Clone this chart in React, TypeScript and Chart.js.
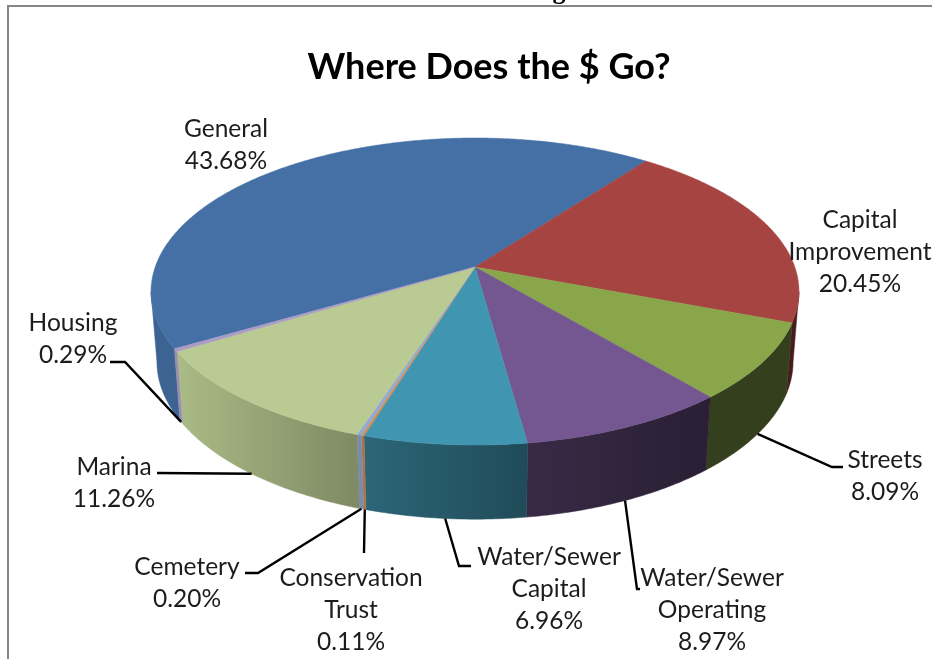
import React, { useEffect, useRef } from "react";
import { Chart, registerables } from "chart.js";

Chart.register(...registerables);

const categories = [
  "General",
  "Capital Improvement",
  "Streets",
  "Water/Sewer Operating",
  "Water/Sewer Capital",
  "Conservation Trust",
  "Cemetery",
  "Marina",
  "Housing",
];
const shares = [43.68, 20.45, 8.09, 8.97, 6.96, 0.11, 0.2, 11.26, 0.29];
const topColors = ["#4470A5", "#A64442", "#8AA64B", "#745790", "#4096B0", "#D98B4A", "#93A9D4", "#B9CB92", "#A99BC5"];
// Rim lighting at the left and right end of each slice's wall.
const wallShade: [number, number][] = [
  [0.88, 0.88], [0.42, 0.42], [0.38, 0.38], [0.48, 0.36], [0.68, 0.5],
  [0.82, 0.82], [0.82, 0.82], [0.92, 0.68], [0.9, 0.9],
];
const labelLines = [
  ["General"],
  ["Capital", "Improvement"],
  ["Streets"],
  ["Water/Sewer", "Operating"],
  ["Water/Sewer", "Capital"],
  ["Conservation", "Trust"],
  ["Cemetery"],
  ["Marina"],
  ["Housing"],
];
const labelAnchor: [number, number][] = [
  [226, 129], [860, 220], [885, 460], [712, 578], [549, 557], [351, 578], [187, 567], [114, 467], [73, 323],
];
// Bends of each leader, from the pie rim outwards; General and Capital have none.
const leaderBends: [number, number][][] = [
  [], [], [[832, 467], [843, 467]], [[637, 589], [640, 589]], [[459, 566], [471, 566]],
  [[364, 553]], [[258, 573], [245, 573]], [[157, 473]], [[125, 362], [110, 362]],
];

const W = 932;
const H = 659;
const FONT = "Lato, 'Noto Sans', sans-serif";
const LINE_H = 32;
const PERSPECTIVE = 0.1597;
const TOP_PLANE = { cx: 475, y0: 267, a: 149.6, b: 319.8 };
const BOTTOM_PLANE = { cx: 475, y0: 336.5, a: 153.5, b: 314 };
const START_ANGLE_DEG = 239.8;

type Plane = typeof TOP_PLANE;

// Projects an angle on the tilted disc (0 = back, clockwise) onto the screen.
function project(p: Plane, theta: number): [number, number] {
  const u = Math.sin(theta);
  const v = -Math.cos(theta);
  const w = 1 - PERSPECTIVE * v;
  return [p.cx + (p.b * u) / w, p.y0 + (p.a * v) / w];
}

function shade(hex: string, f: number): string {
  const n = parseInt(hex.slice(1), 16);
  const c = [(n >> 16) & 255, (n >> 8) & 255, n & 255].map((x) => Math.round(x * f));
  return `rgb(${c[0]},${c[1]},${c[2]})`;
}

const STEP = Math.PI / 360;

function arcPoints(p: Plane, s: number, e: number): [number, number][] {
  const pts: [number, number][] = [];
  const n = Math.max(1, Math.ceil((e - s) / STEP));
  for (let i = 0; i <= n; i++) pts.push(project(p, s + ((e - s) * i) / n));
  return pts;
}

const sliceAngles = (el: any): [number, number] => [el.startAngle + Math.PI / 2, el.endAngle + Math.PI / 2];

const pie3d = {
  id: "pie3d",
  beforeDatasetsDraw(chart: any) {
    const ctx: CanvasRenderingContext2D = chart.ctx;
    const arcs = chart.getDatasetMeta(0).data;
    const colors = chart.data.datasets[0].backgroundColor as string[];
    const tangent = Math.asin(PERSPECTIVE);
    const frontS = Math.PI / 2 + tangent;
    const frontE = (3 * Math.PI) / 2 - tangent;

    // Outer wall of the front half of the disc.
    arcs.forEach((el: any, i: number) => {
      const [s, e] = sliceAngles(el);
      for (let k = -1; k <= 1; k++) {
        const a = Math.max(s, frontS + 2 * Math.PI * k);
        const b = Math.min(e, frontE + 2 * Math.PI * k);
        if (b <= a) continue;
        const top = arcPoints(TOP_PLANE, a, b);
        const bottom = arcPoints(BOTTOM_PLANE, a, b).reverse();
        const xs = top.concat(bottom).map((q) => q[0]);
        const g = ctx.createLinearGradient(Math.min(...xs), 0, Math.max(...xs) + 0.01, 0);
        g.addColorStop(0, shade(colors[i], wallShade[i][0]));
        g.addColorStop(1, shade(colors[i], wallShade[i][1]));
        ctx.beginPath();
        top.concat(bottom).forEach((q, j) => (j ? ctx.lineTo(q[0], q[1]) : ctx.moveTo(q[0], q[1])));
        ctx.closePath();
        ctx.fillStyle = g;
        ctx.strokeStyle = g;
        ctx.lineWidth = 0.5;
        ctx.fill();
        ctx.stroke();
      }
    });

    // Top face of each slice.
    arcs.forEach((el: any, i: number) => {
      const [s, e] = sliceAngles(el);
      ctx.beginPath();
      ctx.moveTo(TOP_PLANE.cx, TOP_PLANE.y0);
      arcPoints(TOP_PLANE, s, e).forEach((q) => ctx.lineTo(q[0], q[1]));
      ctx.closePath();
      ctx.fillStyle = colors[i];
      ctx.strokeStyle = colors[i];
      ctx.lineWidth = 0.5;
      ctx.fill();
      ctx.stroke();
    });

    // Leaders run from the middle of a slice's lower rim to its label.
    ctx.strokeStyle = "#000";
    ctx.lineWidth = 2.4;
    ctx.lineJoin = "miter";
    arcs.forEach((el: any, i: number) => {
      if (!leaderBends[i].length) return;
      const [s, e] = sliceAngles(el);
      const [x, y] = project(BOTTOM_PLANE, (s + e) / 2);
      ctx.beginPath();
      ctx.moveTo(x, y);
      leaderBends[i].forEach((q) => ctx.lineTo(q[0], q[1]));
      ctx.stroke();
    });

    // Category and percentage labels.
    ctx.font = `24.5px ${FONT}`;
    ctx.fillStyle = "#1c1c1c";
    ctx.textAlign = "center";
    ctx.textBaseline = "middle";
    categories.forEach((_, i) => {
      const lines = [...labelLines[i], `${shares[i].toFixed(2)}%`];
      lines.forEach((t, j) => ctx.fillText(t, labelAnchor[i][0], labelAnchor[i][1] + j * LINE_H));
    });

    // Descender of the heading above the frame.
    ctx.font = "bold 26px 'Liberation Serif', serif";
    ctx.fillStyle = "#000";
    ctx.textBaseline = "alphabetic";
    ctx.fillText("g", 559, -1);

    return false;
  },
};

export default function App() {
  const ref = useRef<HTMLCanvasElement>(null);
  useEffect(() => {
    document.body.style.margin = "0";
    const chart = new Chart(ref.current!, {
      type: "pie",
      data: {
        labels: categories,
        datasets: [{ data: shares, backgroundColor: topColors, borderWidth: 0 }],
      },
      options: {
        animation: false,
        responsive: false,
        rotation: START_ANGLE_DEG,
        layout: { padding: { left: 46, top: 46 } },
        plugins: {
          legend: { display: false },
          tooltip: { enabled: false },
          title: {
            display: true,
            text: "Where Does the $ Go?",
            color: "#000",
            font: { family: FONT, size: 36, weight: "bold" },
            padding: 0,
          },
        },
      },
      plugins: [pie3d],
    });
    return () => chart.destroy();
  }, []);
  return (
    <div style={{ position: "relative", width: W, height: H, overflow: "hidden", background: "#fff" }}>
      <canvas ref={ref} width={W} height={H} style={{ display: "block" }} />
      <div
        style={{
          position: "absolute",
          left: 7,
          top: 5,
          right: -4,
          bottom: -4,
          borderLeft: "2px solid #868686",
          borderTop: "2px solid #868686",
        }}
      />
    </div>
  );
}
